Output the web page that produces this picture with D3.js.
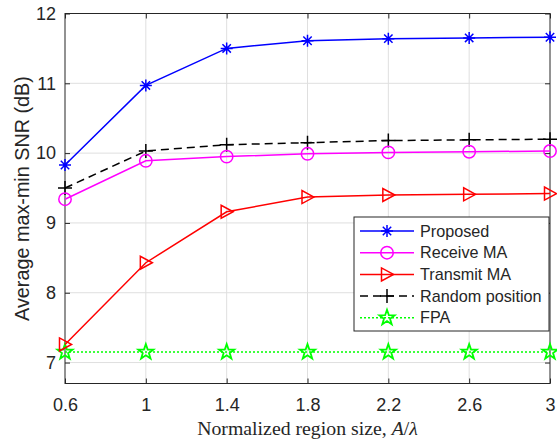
<!DOCTYPE html>
<html>
<head>
<meta charset="utf-8">
<script src="https://cdn.jsdelivr.net/npm/d3@7"></script>
<style>
  body { margin: 0; background: #fff; }
  svg text { font-family: "Liberation Sans", Arial, sans-serif; fill: #262626; }
</style>
</head>
<body>
<div class="chart"></div>
<script>
var sizes = [0.6, 1, 1.4, 1.8, 2.2, 2.6, 3];
var xTicks = [0.6, 1, 1.4, 1.8, 2.2, 2.6, 3];
var yTicks = [7, 8, 9, 10, 11, 12];

var proposed = [9.83, 10.97, 11.50, 11.61, 11.64, 11.65, 11.66];
var receiveMA = [9.34, 9.89, 9.95, 9.99, 10.01, 10.02, 10.03];
var transmitMA = [7.26, 8.43, 9.16, 9.37, 9.40, 9.41, 9.42];
var randomPos = [9.50, 10.03, 10.12, 10.15, 10.18, 10.19, 10.20];
var fpa = [7.15, 7.15, 7.15, 7.15, 7.15, 7.15, 7.15];

var seriesNames = ['Proposed', 'Receive MA', 'Transmit MA', 'Random position', 'FPA'];

var series = [
    { name: seriesNames[0], values: proposed, color: '#0000ff', dash: null, marker: 'asterisk' },
    { name: seriesNames[1], values: receiveMA, color: '#ff00ff', dash: null, marker: 'circle' },
    { name: seriesNames[2], values: transmitMA, color: '#ff0000', dash: null, marker: 'triangle' },
    { name: seriesNames[3], values: randomPos, color: '#000000', dash: '8,5', marker: 'plus' },
    { name: seriesNames[4], values: fpa, color: '#00ff00', dash: '2,2', marker: 'star' }
];

var margin = { top: 13.5, right: 7, bottom: 57.5, left: 65 };
var W = 557, H = 441;
var width = W - margin.left - margin.right;
var height = H - margin.top - margin.bottom;

var svg = d3.select('.chart')
    .append('svg')
    .attr('width', W)
    .attr('height', H)
    .append('g')
    .attr('transform', 'translate(' + margin.left + ', ' + margin.top + ')');

var xScale = d3.scaleLinear().domain([0.6, 3]).range([0, width]);
var yScale = d3.scaleLinear().domain([6.7, 12]).range([height, 0]);

// grid
svg.append('g').selectAll('line.gx')
    .data(xTicks.slice(1, -1))
    .enter().append('line')
    .attr('x1', d => xScale(d)).attr('x2', d => xScale(d))
    .attr('y1', 0).attr('y2', height)
    .attr('stroke', '#dfdfdf').attr('stroke-width', 1);
svg.append('g').selectAll('line.gy')
    .data(yTicks.slice(0, -1))
    .enter().append('line')
    .attr('x1', 0).attr('x2', width)
    .attr('y1', d => yScale(d)).attr('y2', d => yScale(d))
    .attr('stroke', '#dfdfdf').attr('stroke-width', 1);

// axes (MATLAB style: inward ticks, box on)
function styleAxis(g) {
    g.select('.domain').remove();
    g.selectAll('.tick line').attr('stroke', '#262626');
    g.selectAll('.tick text').style('font-size', '18px').attr('fill', '#262626');
}
svg.append('g')
    .attr('transform', `translate(0, ${height})`)
    .call(d3.axisBottom(xScale).tickValues(xTicks).tickFormat(d3.format('')).tickSizeInner(-5).tickPadding(15))
    .call(styleAxis);
svg.append('g')
    .call(d3.axisLeft(yScale).tickValues(yTicks).tickFormat(d3.format('d')).tickSizeInner(-5).tickPadding(9))
    .call(styleAxis);
svg.append('g')
    .call(d3.axisTop(xScale).tickValues(xTicks).tickFormat('').tickSizeInner(-5))
    .call(styleAxis);
svg.append('g')
    .attr('transform', `translate(${width}, 0)`)
    .call(d3.axisRight(yScale).tickValues(yTicks).tickFormat('').tickSizeInner(-5))
    .call(styleAxis);

svg.append('rect')
    .attr('width', width).attr('height', height)
    .attr('fill', 'none').attr('stroke', '#262626').attr('stroke-width', 1);

// markers
function drawMarker(g, type, color) {
    var s = 6;
    if (type === 'asterisk') {
        g.append('path')
            .attr('d', `M0,${-s}V${s}M${-s},0H${s}M${-s*0.7},${-s*0.7}L${s*0.7},${s*0.7}M${-s*0.7},${s*0.7}L${s*0.7},${-s*0.7}`)
            .attr('stroke', color).attr('stroke-width', 1.5).attr('fill', 'none');
    } else if (type === 'circle') {
        g.append('circle').attr('r', 6.2)
            .attr('stroke', color).attr('stroke-width', 1.5).attr('fill', 'none');
    } else if (type === 'triangle') {
        g.append('path').attr('d', 'M6.5,0L-5.5,-6.5L-5.5,6.5Z')
            .attr('stroke', color).attr('stroke-width', 1.5).attr('fill', 'none');
    } else if (type === 'plus') {
        g.append('path').attr('d', 'M0,-7V7M-7,0H7')
            .attr('stroke', color).attr('stroke-width', 1.5).attr('fill', 'none');
    } else if (type === 'star') {
        var pts = [];
        for (var i = 0; i < 10; i++) {
            var r = i % 2 === 0 ? 8 : 3.2;
            var a = -Math.PI / 2 + i * Math.PI / 5;
            pts.push([r * Math.cos(a), r * Math.sin(a)]);
        }
        g.append('path').attr('d', 'M' + pts.join('L') + 'Z')
            .attr('stroke', color).attr('stroke-width', 1.8).attr('fill', 'none');
    }
}

var line = d3.line().x((d, i) => xScale(sizes[i])).y(d => yScale(d));

// draw bottom to top so Proposed ends up on top
series.slice().reverse().forEach(function (s) {
    svg.append('path')
        .datum(s.values)
        .attr('d', line)
        .attr('fill', 'none')
        .attr('stroke', s.color)
        .attr('stroke-width', 1.5)
        .attr('stroke-dasharray', s.dash);
    s.values.forEach(function (v, i) {
        var g = svg.append('g').attr('transform', `translate(${xScale(sizes[i])}, ${yScale(v)})`);
        drawMarker(g, s.marker, s.color);
    });
});

// legend
var lx = 354 - margin.left, ly = 217 - margin.top;
var legend = svg.append('g').attr('transform', `translate(${lx}, ${ly})`);
legend.append('rect')
    .attr('width', 195).attr('height', 114)
    .attr('fill', '#fff').attr('stroke', '#262626').attr('stroke-width', 1);
series.forEach(function (s, i) {
    var y = 14 + i * 21.7;
    legend.append('line')
        .attr('x1', 6).attr('x2', 60).attr('y1', y).attr('y2', y)
        .attr('stroke', s.color).attr('stroke-width', 1.5)
        .attr('stroke-dasharray', s.dash);
    var g = legend.append('g').attr('transform', `translate(33, ${y})`);
    drawMarker(g, s.marker, s.color);
    legend.append('text')
        .attr('x', 66).attr('y', y)
        .attr('dy', '0.35em')
        .style('font-size', '16.2px')
        .text(s.name);
});

// axis titles
svg.append('text')
    .attr('transform', `translate(${22 - margin.left}, ${height / 2}) rotate(-90)`)
    .attr('text-anchor', 'middle')
    .attr('dy', '0.35em')
    .style('font-size', '19.8px')
    .text('Average max-min SNR (dB)');

var xl = svg.append('text')
    .attr('x', width / 2)
    .attr('y', height + 51)
    .attr('text-anchor', 'middle')
    .style('font-family', '"Liberation Serif", "Times New Roman", serif')
    .style('font-size', '19.8px');
xl.append('tspan').text('Normalized region size, ');
xl.append('tspan').style('font-style', 'italic').text('A');
xl.append('tspan').text('/');
xl.append('tspan').style('font-style', 'italic').text('λ');
</script>
</body>
</html>
